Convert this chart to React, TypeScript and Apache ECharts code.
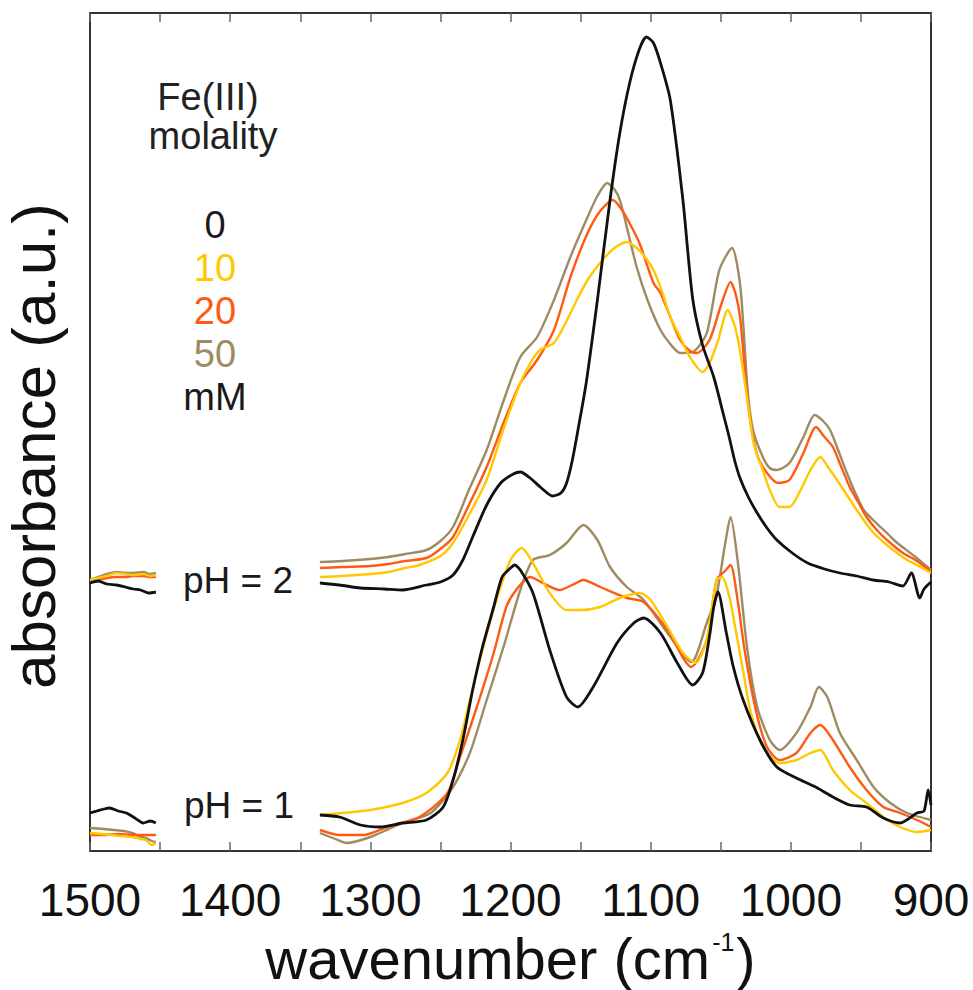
import React, { useEffect, useRef } from "react";
import * as echarts from "echarts";

// wavenumber ticks (cm-1)
const xTicks = [1500, 1400, 1300, 1200, 1100, 1000, 900];

// legend labels
const concentrations = ["0", "10", "20", "50"];
const unitLabel = "mM";
const colors = ["#111111", "#FFC800", "#FF5A14", "#9E8B63"];

// ---- pH = 2 (upper set), [wavenumber, absorbance a.u. (arbitrary, offset)] ----
const black2L = [[1500,268],[1494,270],[1488,267],[1481,266],[1475,264],[1469,262],[1464,261],[1458,258],[1453,259]];
const black2R = [[1336,268],[1322,266],[1307,263],[1290,262],[1277,261],[1260,266],[1250,269],[1241,276],[1234,291],[1227,314],[1217,346],[1207,368],[1198,377],[1193,379],[1186,373],[1178,363],[1170,355],[1164,358],[1160,368],[1156,390],[1152,420],[1146,468],[1138,551],[1129,651],[1122,718],[1115,768],[1108,802],[1103,814],[1098,808],[1093,788],[1086,751],[1077,651],[1070,552],[1063,506],[1055,474],[1048,436],[1044,414],[1040,390],[1036,372],[1030,353],[1024,338],[1017,323],[1010,311],[999,298],[988,288],[976,282],[965,278],[953,275],[941,271],[930,269],[920,265],[914,278],[908,253],[905,262],[900,269]];

const yellow2L = [[1500,271],[1494,273],[1488,275],[1481,278],[1475,277],[1469,276],[1462,277],[1457,275],[1453,276]];
const yellow2R = [[1336,274],[1320,275],[1300,277],[1287,279],[1275,283],[1265,286],[1250,295],[1241,308],[1230,335],[1217,371],[1205,422],[1193,468],[1185,490],[1179,501],[1169,508],[1160,530],[1152,553],[1145,571],[1135,590],[1125,604],[1117,609],[1110,603],[1104,594],[1098,581],[1092,560],[1086,534],[1079,514],[1072,494],[1063,479],[1058,488],[1052,510],[1045,541],[1040,525],[1036,498],[1031,451],[1027,411],[1024,396],[1020,381],[1015,361],[1008,344],[1001,344],[993,361],[986,381],[979,394],[973,383],[967,371],[960,356],[953,341],[947,329],[941,318],[934,309],[927,301],[917,291],[910,286],[900,278]];

const orange2L = [[1500,269],[1494,271],[1488,273],[1481,274],[1475,274],[1469,275],[1462,275],[1457,274],[1453,274]];
const orange2R = [[1336,283],[1320,284],[1300,285],[1287,287],[1275,290],[1260,293],[1250,302],[1241,314],[1230,345],[1217,384],[1205,428],[1193,468],[1181,491],[1169,521],[1157,575],[1145,618],[1136,640],[1127,651],[1120,640],[1114,625],[1108,608],[1098,568],[1093,558],[1086,534],[1079,511],[1072,500],[1067,498],[1058,511],[1050,545],[1043,569],[1039,555],[1036,531],[1030,441],[1024,396],[1017,378],[1009,368],[1001,371],[991,398],[982,424],[976,414],[970,404],[964,384],[958,364],[952,349],[946,334],[938,320],[929,308],[920,298],[910,290],[900,279]];

const tan2L = [[1500,271],[1494,274],[1488,277],[1481,279],[1475,278],[1469,278],[1462,279],[1457,277],[1453,278]];
const tan2R = [[1336,289],[1320,290],[1300,292],[1287,294],[1275,297],[1260,301],[1250,310],[1241,324],[1230,360],[1217,401],[1205,450],[1193,494],[1181,514],[1169,551],[1157,595],[1145,634],[1138,655],[1131,668],[1126,662],[1122,651],[1116,618],[1110,584],[1102,550],[1093,521],[1086,507],[1079,498],[1070,499],[1060,518],[1051,581],[1042,603],[1036,564],[1031,464],[1027,421],[1020,394],[1015,383],[1010,381],[1001,388],[991,414],[983,436],[977,430],[972,421],[966,400],[960,378],[954,358],[948,341],[942,332],[936,324],[930,316],[924,308],[912,295],[900,281]];

// ---- pH = 1 (lower set) ----
const black1L = [[1500,38],[1495,40],[1490,42],[1486,43],[1480,40],[1474,38],[1468,33],[1462,28],[1457,30],[1453,28]];
const black1R = [[1336,36],[1322,34],[1307,26],[1293,24],[1277,28],[1260,31],[1248,44],[1241,71],[1234,111],[1227,161],[1220,204],[1212,244],[1206,274],[1200,283],[1197,286],[1193,281],[1184,258],[1172,201],[1160,154],[1152,144],[1141,164],[1124,208],[1112,228],[1105,233],[1093,218],[1081,188],[1070,166],[1063,178],[1058,215],[1055,244],[1052,259],[1046,218],[1041,184],[1034,151],[1022,111],[1010,84],[993,71],[981,63],[970,54],[958,46],[946,44],[934,33],[922,28],[910,38],[905,40],[902,61],[900,46]];

const yellow1L = [[1500,18],[1492,17],[1485,16],[1478,15],[1470,14],[1464,12],[1460,11],[1456,6],[1453,8]];
const yellow1R = [[1336,36],[1320,38],[1300,41],[1277,48],[1260,58],[1245,78],[1236,111],[1229,151],[1220,201],[1210,251],[1200,291],[1192,303],[1184,288],[1172,258],[1160,241],[1150,241],[1136,244],[1122,253],[1108,258],[1100,251],[1088,224],[1077,198],[1068,188],[1060,211],[1053,271],[1049,274],[1044,255],[1040,226],[1034,180],[1029,141],[1020,104],[1008,88],[996,91],[986,98],[979,101],[970,81],[958,61],[946,48],[934,34],[922,24],[910,19],[900,21]];

const orange1L = [[1500,16],[1490,16],[1480,17],[1470,16],[1462,16],[1453,16]];
const orange1R = [[1336,21],[1322,16],[1305,16],[1288,24],[1265,34],[1245,58],[1236,94],[1224,144],[1212,198],[1203,244],[1196,261],[1186,274],[1177,268],[1165,261],[1156,266],[1148,271],[1136,264],[1117,253],[1105,249],[1088,221],[1071,184],[1060,211],[1053,271],[1047,280],[1043,286],[1038,251],[1033,201],[1025,141],[1017,104],[1008,91],[996,98],[986,118],[979,126],[970,111],[958,84],[946,61],[934,44],[922,38],[910,31],[900,24]];

const tan1L = [[1500,23],[1490,22],[1483,21],[1476,20],[1470,18],[1465,15],[1460,13],[1456,10],[1453,9]];
const tan1R = [[1336,18],[1325,12],[1317,8],[1300,14],[1277,28],[1257,38],[1241,64],[1229,98],[1217,151],[1205,204],[1193,261],[1184,291],[1172,296],[1160,308],[1148,326],[1138,311],[1129,284],[1117,264],[1105,251],[1088,218],[1071,189],[1060,228],[1053,256],[1047,306],[1043,334],[1038,291],[1031,201],[1024,144],[1015,111],[1008,101],[996,118],[986,144],[980,164],[974,154],[965,118],[953,91],[941,64],[929,48],[917,38],[900,31]];

const GAP: any = [1400, "-"];
const FONT = '"Liberation Sans", Arial, Helvetica, sans-serif';

function joined(a: number[][], b: number[][]) {
  return [...a, GAP, ...b];
}

export default function App() {
  const ref = useRef<HTMLDivElement>(null);
  useEffect(() => {
    document.body.style.margin = "0";
    if (!ref.current) return;
    const chart = echarts.init(ref.current, undefined, { renderer: "svg" });

    const sets = [
      { name: "50 mM pH 2", data: joined(tan2L, tan2R), c: colors[3] },
      { name: "20 mM pH 2", data: joined(orange2L, orange2R), c: colors[2] },
      { name: "10 mM pH 2", data: joined(yellow2L, yellow2R), c: colors[1] },
      { name: "0 mM pH 2", data: joined(black2L, black2R), c: colors[0] },
      { name: "50 mM pH 1", data: joined(tan1L, tan1R), c: colors[3] },
      { name: "20 mM pH 1", data: joined(orange1L, orange1R), c: colors[2] },
      { name: "10 mM pH 1", data: joined(yellow1L, yellow1R), c: colors[1] },
      { name: "0 mM pH 1", data: joined(black1L, black1R), c: colors[0] },
    ];

    const axisLineStyle = { color: "#333", width: 2 };
    const tickStyle = { color: "#666", width: 1.5 };

    const legendTexts = [...concentrations, unitLabel].map((t, i) => ({
      type: "text",
      x: 215,
      y: 225 + i * 43,
      style: {
        text: t,
        fontSize: 38,
        fontFamily: FONT,
        fill: i === 0 || i === 4 ? "#1a1a1a" : colors[i],
        align: "center",
        verticalAlign: "middle",
      },
    }));

    chart.setOption({
      animation: false,
      backgroundColor: "#ffffff",
      grid: { left: 90, right: 42, top: 13, bottom: 139, containLabel: false, outerBoundsMode: "none" },
      xAxis: [
        {
          type: "value",
          min: 900,
          max: 1500,
          interval: 100,
          inverse: true,
          position: "bottom",
          axisLine: { show: true, onZero: false, lineStyle: axisLineStyle },
          axisTick: { show: true, inside: true, length: 9, lineStyle: tickStyle },
          minorTick: { show: true, splitNumber: 2, length: 9, lineStyle: tickStyle },
          splitLine: { show: false },
          axisLabel: {
            fontSize: 46,
            color: "#111",
            margin: 26,
            fontFamily: FONT,
            showMinLabel: true,
            showMaxLabel: true,
            formatter: (v: number) => (xTicks.includes(v) ? String(v) : ""),
          },
          name: "{t|wavenumber (cm}{s|-1}{t|)}",
          nameLocation: "middle",
          nameGap: 78,
          nameTextStyle: {
            rich: {
              t: { fontSize: 58, lineHeight: 58, fontFamily: FONT, color: "#111", verticalAlign: "bottom" },
              s: { fontSize: 25, lineHeight: 26, fontFamily: FONT, color: "#111", verticalAlign: "top", padding: [0, 2, 0, 2] },
            },
          },
        },
        {
          type: "value",
          min: 900,
          max: 1500,
          interval: 100,
          inverse: true,
          position: "top",
          axisLine: { show: true, onZero: false, lineStyle: axisLineStyle },
          axisTick: { show: true, inside: true, length: 9, lineStyle: tickStyle },
          minorTick: { show: true, splitNumber: 2, length: 9, lineStyle: tickStyle },
          splitLine: { show: false },
          axisLabel: { show: false },
        },
      ],
      yAxis: [
        {
          type: "value",
          min: 0,
          max: 838,
          position: "left",
          axisLine: { show: true, onZero: false, lineStyle: axisLineStyle },
          axisTick: { show: false },
          axisLabel: { show: false },
          splitLine: { show: false },
          name: "absorbance (a.u.)",
          nameLocation: "middle",
          nameRotate: 90,
          nameGap: 26,
          nameTextStyle: { fontSize: 62, fontFamily: FONT, color: "#111", padding: [0, 28, 0, 0] },
        },
        {
          type: "value",
          min: 0,
          max: 838,
          position: "right",
          axisLine: { show: true, onZero: false, lineStyle: axisLineStyle },
          axisTick: { show: false },
          axisLabel: { show: false },
          splitLine: { show: false },
        },
      ],
      series: sets.map((s) => ({
        name: s.name,
        type: "line",
        xAxisIndex: 0,
        yAxisIndex: 0,
        data: s.data,
        showSymbol: false,
        symbol: "none",
        connectNulls: false,
        smooth: 0.25,
        lineStyle: { color: s.c, width: s.c === colors[0] ? 2.8 : 2.4 },
        itemStyle: { color: s.c },
        z: s.c === colors[0] ? 3 : 2,
      })),
      graphic: [
        {
          type: "text",
          x: 208,
          y: 97,
          style: { text: "Fe(III)", fontSize: 38, fontFamily: FONT, fill: "#222", align: "center", verticalAlign: "middle" },
        },
        {
          type: "text",
          x: 213,
          y: 136,
          style: { text: "molality", fontSize: 38, fontFamily: FONT, fill: "#222", align: "center", verticalAlign: "middle" },
        },
        ...legendTexts,
        {
          type: "text",
          x: 238,
          y: 580,
          style: { text: "pH = 2", fontSize: 37, fontFamily: FONT, fill: "#1a1a1a", align: "center", verticalAlign: "middle" },
        },
        {
          type: "text",
          x: 239,
          y: 805,
          style: { text: "pH = 1", fontSize: 37, fontFamily: FONT, fill: "#1a1a1a", align: "center", verticalAlign: "middle" },
        },
      ],
    });
    return () => chart.dispose();
  }, []);
  return <div ref={ref} style={{ width: 973, height: 990 }} />;
}
